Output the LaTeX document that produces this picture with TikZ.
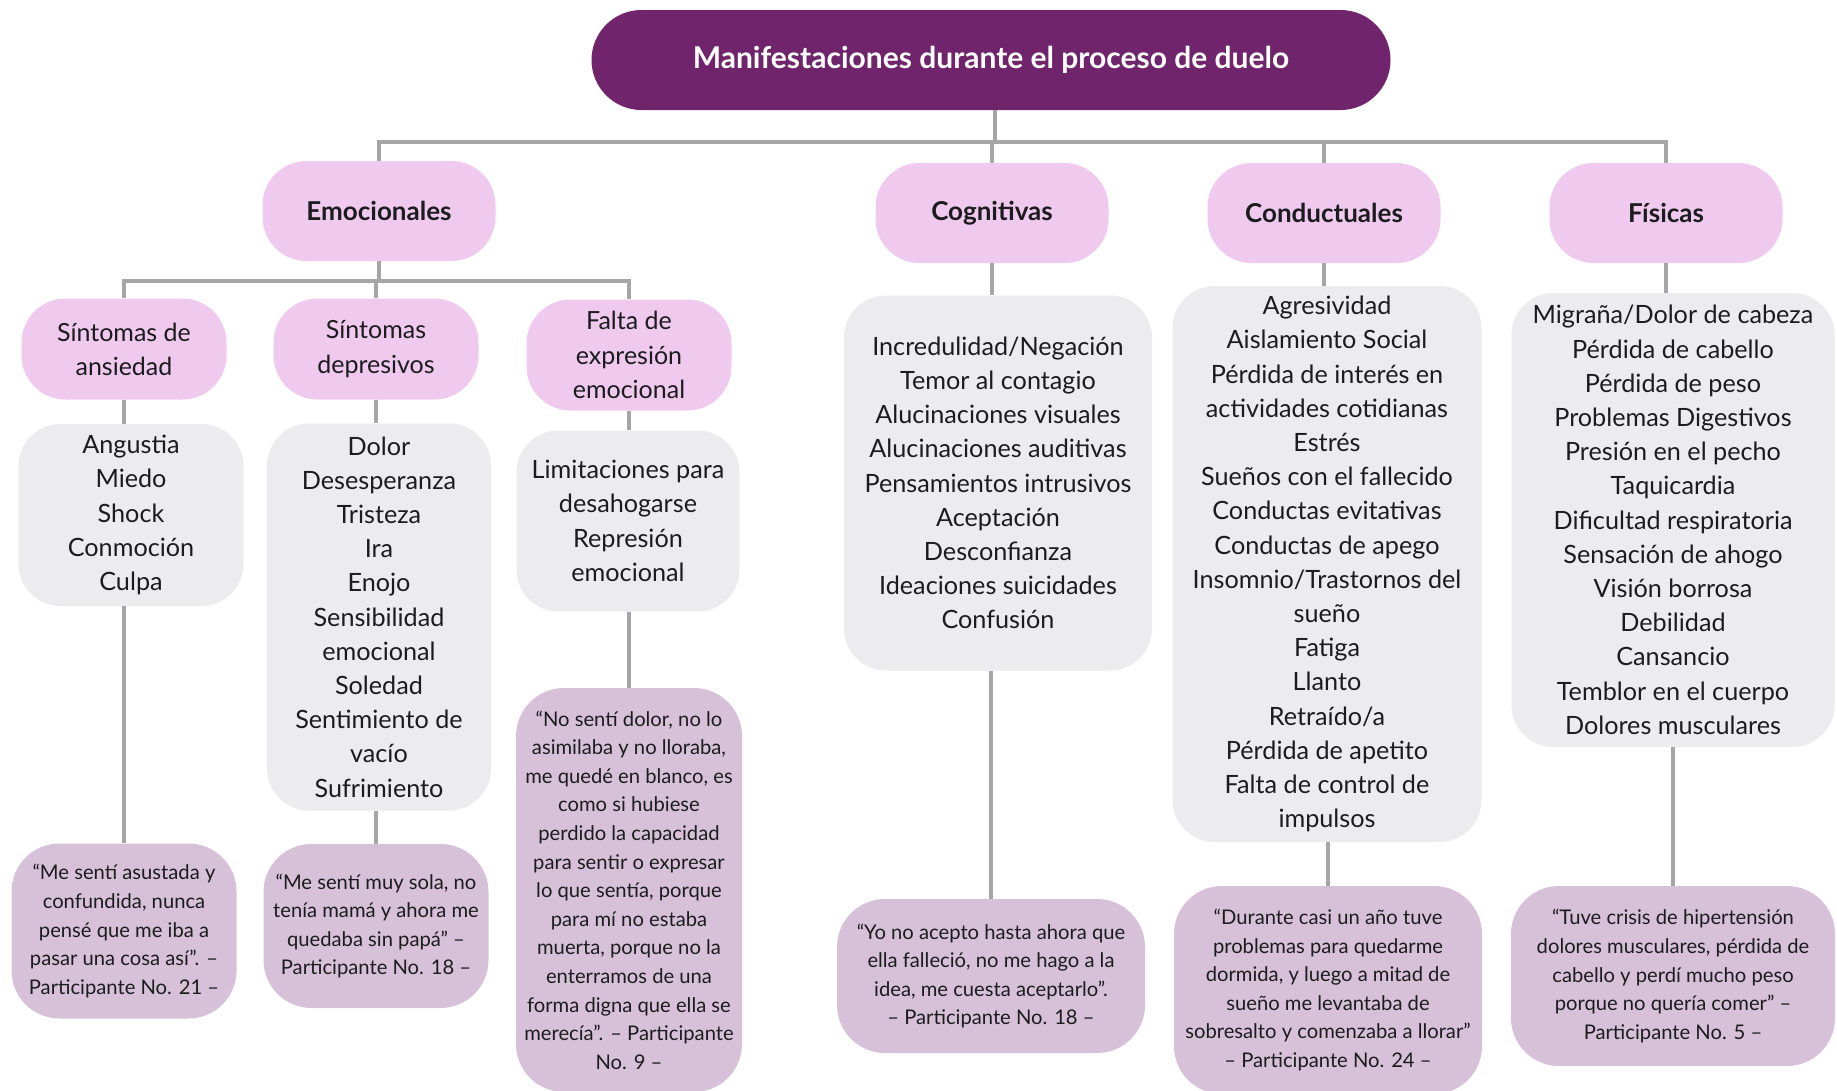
\documentclass[tikz,border=0pt]{standalone}
\usepackage{fontspec}
\setmainfont{Lato}
\usetikzlibrary{positioning,calc}

\definecolor{duelo}{RGB}{111,36,107}
\definecolor{rosa}{RGB}{239,202,238}
\definecolor{gris}{RGB}{236,235,237}
\definecolor{malva}{RGB}{214,193,216}
\definecolor{linea}{RGB}{166,166,166}
\definecolor{tinta}{RGB}{28,28,30}

\begin{document}
\begin{tikzpicture}[x=1pt,y=-1pt]

  \tikzstyle{heading}=[shape=rectangle, fill=duelo, text=white, inner sep=0pt, rounded corners=50pt, minimum width=799pt, minimum height=100pt, font=\fontsize{30}{34}\selectfont\bfseries]
  \tikzstyle{category}=[shape=rectangle, fill=rosa, text=tinta, inner sep=0pt, rounded corners=44pt, minimum width=233pt, minimum height=100pt, font=\fontsize{26}{34}\selectfont\bfseries]
  \tikzstyle{subcategory}=[shape=rectangle, fill=rosa, text=tinta, inner sep=0pt, align=center, rounded corners=44pt, minimum width=205pt, minimum height=101pt, font=\fontsize{25}{34.2}\selectfont]
  \tikzstyle{listbox}=[shape=rectangle, fill=gris, text=tinta, inner sep=0pt, align=center, rounded corners=42pt, font=\fontsize{25.2}{34.2}\selectfont]
  \tikzstyle{quotebox}=[shape=rectangle, fill=malva, text=tinta, inner sep=0pt, align=center, rounded corners=48pt, font=\fontsize{20.2}{28.6}\selectfont]
  \tikzstyle{connection}=[color=linea, line width=3.8pt]

  \fill[white] (0,0) rectangle (1837,1090);
  \useasboundingbox (0,0) rectangle (1837,1090);

  % title and main categories
  \node [heading] (T) at (991,60) {Manifestaciones durante el proceso de duelo};
  \coordinate (B) at (995,142);
  \node [category] (E) at (379,211) {Emocionales};
  \node [category] (C) at (992,213) {Cognitivas};
  \node [category] (K) at (1324,213) {Conductuales};
  \node [category] (F) at (1666,213) {Físicas};

  % emotional subcategories
  \coordinate (EB) at (379,281);
  \node [subcategory] (EA) at (124,349) {Síntomas de\\ansiedad};
  \node [subcategory] (ED) at (376,349) {Síntomas\\depresivos};
  \node [subcategory,minimum height=111pt] (EF) at (629,355) {Falta de\\expresión\\emocional};

  % lists
  \node [listbox,minimum width=225pt,minimum height=182pt] (LA) at (131,515)
    {Angustia\\Miedo\\Shock\\Conmoción\\Culpa};
  \node [listbox,minimum width=224pt,minimum height=387pt] (LD) at (379,617)
    {Dolor\\Desesperanza\\Tristeza\\Ira\\Enojo\\Sensibilidad\\emocional\\Soledad\\Sentimiento de\\vacío\\Sufrimiento};
  \node [listbox,minimum width=223pt,minimum height=181pt] (LF) at (628,521)
    {Limitaciones para\\desahogarse\\Represión\\emocional};
  \node [listbox,minimum width=308pt,minimum height=375pt] (LC) at (998,483)
    {Incredulidad/Negación\\Temor al contagio\\Alucinaciones visuales\\Alucinaciones auditivas\\Pensamientos intrusivos\\Aceptación\\Desconfianza\\Ideaciones suicidades\\Confusión};
  \node [listbox,minimum width=309pt,minimum height=556pt] (LK) at (1327,564)
    {Agresividad\\Aislamiento Social\\Pérdida de interés en\\actividades cotidianas\\Estrés\\Sueños con el fallecido\\Conductas evitativas\\Conductas de apego\\Insomnio/Trastornos del\\sueño\\Fatiga\\Llanto\\Retraído/a\\Pérdida de apetito\\Falta de control de\\impulsos};
  \node [listbox,minimum width=323pt,minimum height=454pt] (LP) at (1673,520)
    {Migraña/Dolor de cabeza\\Pérdida de cabello\\Pérdida de peso\\Problemas Digestivos\\Presión en el pecho\\Taquicardia\\Dificultad respiratoria\\Sensación de ahogo\\Visión borrosa\\Debilidad\\Cansancio\\Temblor en el cuerpo\\Dolores musculares};

  % quotes
  \node [quotebox,minimum width=225pt,minimum height=175pt] (QA) at (124,931)
    {“Me sentí asustada y\\confundida, nunca\\pensé que me iba a\\pasar una cosa así”. –\\Participante No. 21 –};
  \node [quotebox,minimum width=225pt,minimum height=164pt] (QD) at (376,926)
    {“Me sentí muy sola, no\\tenía mamá y ahora me\\quedaba sin papá” –\\Participante No. 18 –};
  \node [quotebox,minimum width=226pt,minimum height=404pt] (QF) at (629,890)
    {“No sentí dolor, no lo\\asimilaba y no lloraba,\\me quedé en blanco, es\\como si hubiese\\perdido la capacidad\\para sentir o expresar\\lo que sentía, porque\\para mí no estaba\\muerta, porque no la\\enterramos de una\\forma digna que ella se\\merecía”. – Participante\\No. 9 –};
  \node [quotebox,minimum width=308pt,minimum height=154pt] (QC) at (991,976)
    {“Yo no acepto hasta ahora que\\ella falleció, no me hago a la\\idea, me cuesta aceptarlo”.\\– Participante No. 18 –};
  \node [quotebox,minimum width=308pt,minimum height=208pt] (QK) at (1328,990)
    {“Durante casi un año tuve\\problemas para quedarme\\dormida, y luego a mitad de\\sueño me levantaba de\\sobresalto y comenzaba a llorar”\\– Participante No. 24 –};
  \node [quotebox,minimum width=324pt,minimum height=180pt] (QP) at (1673,976)
    {“Tuve crisis de hipertensión\\dolores musculares, pérdida de\\cabello y perdí mucho peso\\porque no quería comer” –\\Participante No. 5 –};

  % tree connections
  \draw[connection] (T.south -| B) -- (B);
  \draw[connection] (B) -| (E.north);
  \draw[connection] (B) -| (C.north);
  \draw[connection] (B) -| (K.north);
  \draw[connection] (B) -| (F.north);
  \draw[connection] (E.south) -- (EB);
  \draw[connection] (EB) -| (EA.north);
  \draw[connection] (EB) -| (ED.north);
  \draw[connection] (EB) -| (EF.north);

  % down to lists and quotes
  \draw[connection] (EA.south) -- (EA.south |- LA.north);
  \draw[connection] (ED.south) -- (ED.south |- LD.north);
  \draw[connection] (EF.south) -- (EF.south |- LF.north);
  \draw[connection] (C.south) -- (C.south |- LC.north);
  \draw[connection] (K.south) -- (K.south |- LK.north);
  \draw[connection] (F.south) -- (F.south |- LP.north);
  \draw[connection] (QA.north |- LA.south) -- (QA.north);
  \draw[connection] (QD.north |- LD.south) -- (QD.north);
  \draw[connection] (QF.north |- LF.south) -- (QF.north);
  \draw[connection] (QC.north |- LC.south) -- (QC.north);
  \draw[connection] (QK.north |- LK.south) -- (QK.north);
  \draw[connection] (QP.north |- LP.south) -- (QP.north);
\end{tikzpicture}
\end{document}
